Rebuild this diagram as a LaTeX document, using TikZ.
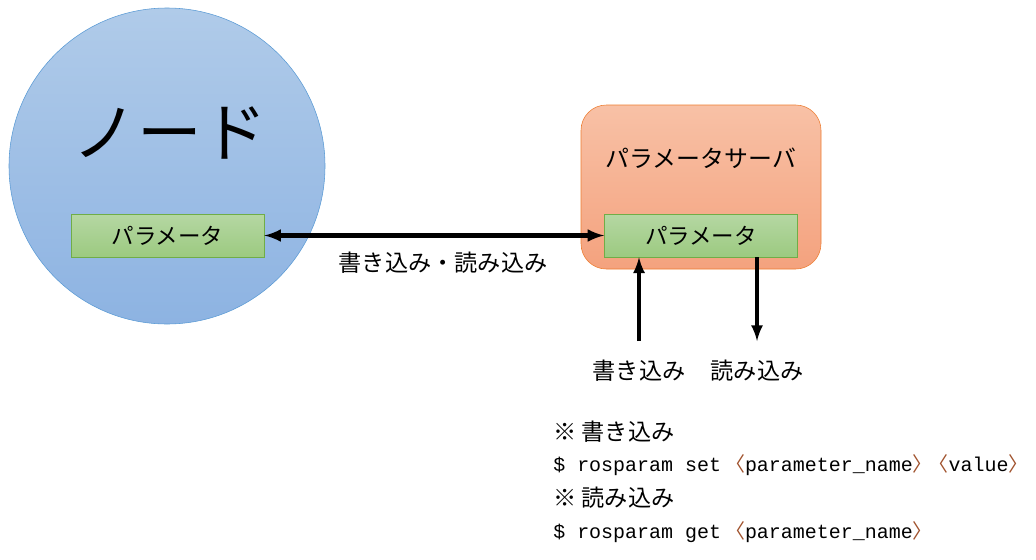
\documentclass[tikz,border=0pt]{standalone}
\usepackage{fontspec}
\setmainfont{Noto Sans CJK JP}
\newfontfamily\jpfont{Noto Sans CJK JP}
\newfontfamily\codefont{Liberation Mono}
\usetikzlibrary{positioning}

\definecolor{nodeblue}{HTML}{5B9BD5}
\definecolor{nodetop}{HTML}{B0CBE9}
\definecolor{nodebottom}{HTML}{8DB3E2}
\definecolor{paramgreen}{HTML}{70AD47}
\definecolor{paramtop}{HTML}{B5D7A3}
\definecolor{parambottom}{HTML}{9CCA80}
\definecolor{serverorange}{HTML}{ED7D31}
\definecolor{servertop}{HTML}{F8C1A6}
\definecolor{serverbottom}{HTML}{F4A27E}
\definecolor{bracketbrown}{HTML}{A0522D}

% half-width angle brackets around a word
\newcommand{\lab}[1]{{\color{bracketbrown}\jpfont\hbox to 0.6em{\hss〈}}#1{\color{bracketbrown}\jpfont\hbox to 0.6em{〉\hss}}}

\begin{document}
\begin{tikzpicture}[x=0.025cm,y=-0.025cm,
  param/.style={draw=paramgreen,top color=paramtop,bottom color=parambottom,
    minimum width=193*0.025cm,minimum height=43*0.025cm,inner sep=0pt,
    font=\fontsize{16}{18}\selectfont},
  label/.style={font=\fontsize{16.5}{18}\selectfont,inner sep=0pt},
  code/.style={font=\codefont\fontsize{14.2}{16}\selectfont,anchor=west,inner sep=0pt},
  rw/.style={line width=2.8pt,-latex}]
  \useasboundingbox (0,0) rectangle (1036,559);

  % node side
  \node[circle,draw=nodeblue,top color=nodetop,bottom color=nodebottom,
        minimum size=316*0.025cm,inner sep=0pt] (node) at (167,166) {};
  \node[font=\fontsize{46}{50}\selectfont] (nodename) at (170,133) {ノード};
  \node[param] (nparam) at (167.5,235.5) {パラメータ};

  % parameter server
  \node[draw=serverorange,top color=servertop,bottom color=serverbottom,
        rounded corners=18pt,minimum width=240*0.025cm,minimum height=164*0.025cm,
        inner sep=0pt] (server) at (701,187) {};
  \node[font=\fontsize{17}{19}\selectfont] (servername) at (701,158) {パラメータサーバ};
  \node[param] (sparam) at (701,235.5) {パラメータ};

  \draw[line width=3pt,latex-latex] (nparam.east) -- (sparam.west);
  \node[label] (rwlabel) at (443,263) {書き込み・読み込み};

  % set / get
  \coordinate (setin) at (639,341);
  \coordinate (getout) at (757,341);
  \draw[rw] (setin) -- (setin |- sparam.south);
  \draw[rw] (getout |- sparam.south) -- (getout);
  \node[label] (setlabel) at (639,371) {書き込み};
  \node[label] (getlabel) at (757,371) {読み込み};

  % commands
  \node[label,anchor=west] (setnote) at (553,432) {※ 書き込み};
  \node[code] (setcmd) at (553,465) {\$ rosparam set \lab{parameter\_name} \lab{value}};
  \node[label,anchor=west] (getnote) at (553,498) {※ 読み込み};
  \node[code] (getcmd) at (553,532) {\$ rosparam get \lab{parameter\_name}};
\end{tikzpicture}
\end{document}
